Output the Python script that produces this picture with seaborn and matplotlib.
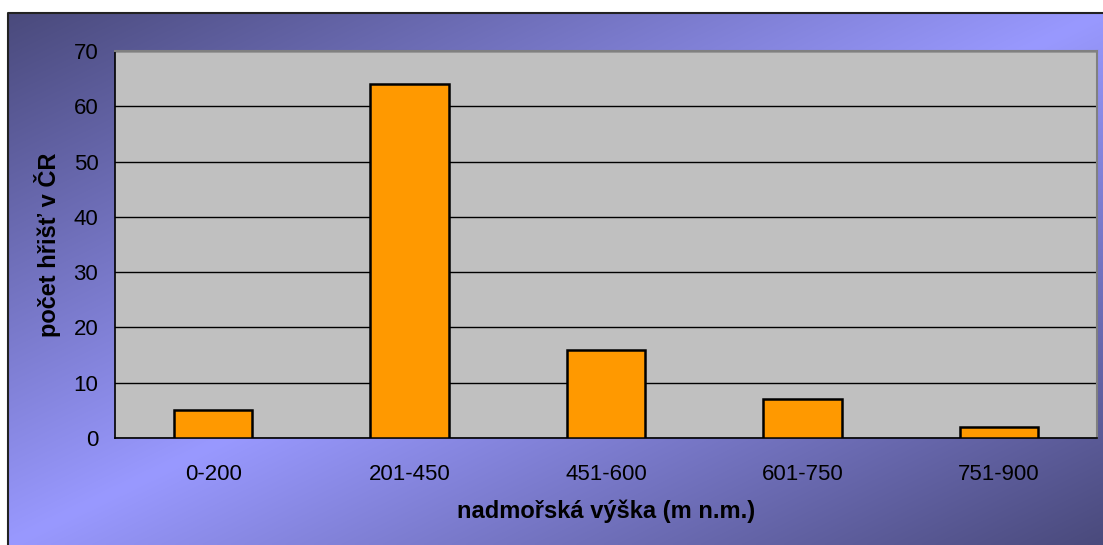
import numpy as np
import pandas as pd
import matplotlib
matplotlib.use("Agg")
import matplotlib.pyplot as plt
import seaborn as sns

categories = ["0-200", "201-450", "451-600", "601-750", "751-900"]
values = [5, 64, 16, 7, 2]
y_ticks = [0, 10, 20, 30, 40, 50, 60, 70]
x_label = "nadmořská výška (m n.m.)"
y_label = "počet hřišť v ČR"

W, H = 1103, 545
sns.set_theme(style="white")
plt.rcParams['font.family'] = ['Liberation Sans', 'DejaVu Sans']

fig = plt.figure(figsize=(W / 100, H / 100), dpi=100)
fig.patch.set_facecolor("white")

# gradient background panel
bg = fig.add_axes([0, 0, 1, 1], zorder=-10)
bg.set_xlim(0, W)
bg.set_ylim(H, 0)
bg.axis("off")
x0, y0 = 8, 13
xs = np.linspace(0, 1, 400)
ys = np.linspace(0, 1, 200)
XX, YY = np.meshgrid(xs, ys)
u = XX + YY
t = 1 - np.abs(u - 1)
dark = np.array([0x4A, 0x4A, 0x7C]) / 255
light = np.array([0x99, 0x99, 0xFF]) / 255
img = dark[None, None, :] * (1 - t[..., None]) + light[None, None, :] * t[..., None]
bg.imshow(img, extent=[x0, W, H, y0], aspect="auto", interpolation="bilinear")
bg.plot([x0, x0, W], [H, y0, y0], color="#222222", lw=1.5)

ax = fig.add_axes([115 / W, 1 - 438 / H, (1097 - 115) / W, (438 - 51) / H])
df = pd.DataFrame({"cat": categories, "val": values})
sns.barplot(data=df, x="cat", y="val", color="#FF9900", edgecolor="black",
            linewidth=1.8, width=0.4, saturation=1, ax=ax, zorder=3)
ax.set_facecolor("#C0C0C0")
ax.set_ylim(0, 70)
ax.set_xlim(-0.5, len(categories) - 0.5)
ax.set_yticks(y_ticks)
ax.yaxis.grid(True, color="black", lw=1)
ax.set_axisbelow(True)
for s in ["top", "right"]:
    ax.spines[s].set_color("#808080")
    ax.spines[s].set_linewidth(1.5)
for s in ["left", "bottom"]:
    ax.spines[s].set_color("black")
    ax.spines[s].set_linewidth(1.2)
ax.set_xticks(np.arange(len(categories)))
ax.set_xticklabels(categories)
ax.set_xticks(np.arange(len(categories) + 1) - 0.5, minor=True)
ax.tick_params(axis="x", which="major", length=0, pad=19, labelsize=16, labelcolor="black")
ax.tick_params(axis="x", which="minor", length=6, width=1.2, color="black", direction="out")
ax.tick_params(axis="y", length=7, width=1.2, color="black", direction="out",
               labelsize=16, pad=5, labelcolor="black")
ax.set_xlabel(x_label, fontsize=17, fontweight="bold", labelpad=10, color="black")
ax.set_ylabel(y_label, fontsize=17, fontweight="bold", labelpad=9, color="black")

fig.savefig("out.png", dpi=100, facecolor="white")
